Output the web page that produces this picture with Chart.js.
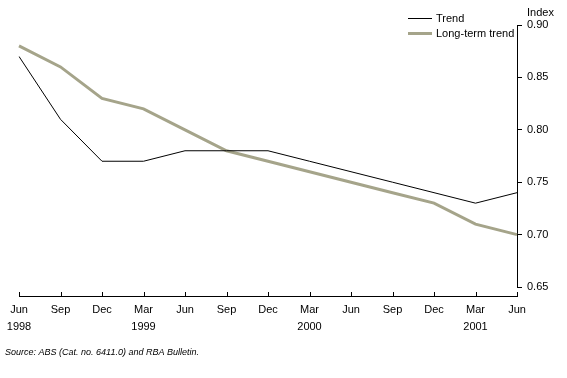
<!DOCTYPE html>
<html>
<head>
<meta charset="utf-8">
<script src="https://cdn.jsdelivr.net/npm/chart.js@4"></script>
<style>
  html, body { margin: 0; padding: 0; background: #fff; }
  #chartDiv { display: block; }
</style>
</head>
<body>
<canvas id="chartDiv" width="567" height="378"></canvas>
<script>
const months = ["Jun", "Sep", "Dec", "Mar", "Jun", "Sep", "Dec", "Mar", "Jun", "Sep", "Dec", "Mar", "Jun"];
const years = ["1998", "", "", "1999", "", "", "", "2000", "", "", "", "2001", ""];
const trend = [0.87, 0.81, 0.77, 0.77, 0.78, 0.78, 0.78, 0.77, 0.76, 0.75, 0.74, 0.73, 0.74];
const longTrend = [0.88, 0.86, 0.83, 0.82, 0.80, 0.78, 0.77, 0.76, 0.75, 0.74, 0.73, 0.71, 0.70];

const FONT = "'Liberation Sans', Arial, sans-serif";
const labels = months.map((m, i) => [m, years[i]]);

// axis line under the plot, legend, titles
const extras = {
  id: "extras",
  afterDraw(chart) {
    const ctx = chart.ctx;
    const x = chart.scales.x;
    const area = chart.chartArea;
    const axisY = area.bottom + 9;
    ctx.save();
    ctx.strokeStyle = "#000";
    ctx.lineWidth = 1;
    ctx.beginPath();
    ctx.moveTo(area.left, axisY + 0.5);
    ctx.lineTo(area.right + 1, axisY + 0.5);
    x.ticks.forEach((t, i) => {
      const px = Math.round(x.getPixelForTick(i)) + 0.5;
      ctx.moveTo(px, axisY);
      ctx.lineTo(px, axisY - 4);
    });
    ctx.stroke();

    ctx.fillStyle = "#000";
    ctx.font = "11px " + FONT;
    ctx.textBaseline = "middle";
    ctx.fillText("Index", 527, 13);

    chart.data.datasets.forEach((ds, i) => {
      const ly = 18 + i * 15;
      ctx.strokeStyle = ds.borderColor;
      ctx.lineWidth = ds.borderWidth;
      ctx.beginPath();
      ctx.moveTo(408, ly + 0.5);
      ctx.lineTo(432, ly + 0.5);
      ctx.stroke();
      ctx.fillStyle = "#000";
      ctx.fillText(ds.label, 436, ly + 1);
    });

    ctx.font = "italic 9px " + FONT;
    ctx.fillText("Source: ABS (Cat. no. 6411.0) and RBA Bulletin.", 5, 352);
    ctx.restore();
  },
};

const ctx = document.getElementById("chartDiv");
const chart = new Chart(ctx, {
  type: "line",
  data: {
    labels: labels,
    datasets: [
      {
        label: "Trend",
        data: trend,
        borderColor: "#000000",
        borderWidth: 1,
        pointRadius: 0,
        tension: 0,
      },
      {
        label: "Long-term trend",
        data: longTrend,
        borderColor: "#a5a48a",
        borderWidth: 3,
        pointRadius: 0,
        tension: 0,
      },
    ],
  },
  options: {
    responsive: false,
    animation: false,
    layout: { padding: { top: 25, left: 19, right: 0, bottom: 0 } },
    plugins: { legend: { display: false }, tooltip: { enabled: false } },
    scales: {
      x: {
        offset: false,
        grid: { display: false },
        border: { display: false },
        ticks: {
          autoSkip: false,
          maxRotation: 0,
          padding: 7,
          color: "#000",
          font: { family: FONT, size: 11, lineHeight: 1.5 },
        },
        afterFit: (scale) => {
          scale.height = 91;
          scale.paddingLeft = 0;
          scale.paddingRight = 0;
        },
      },
      y: {
        position: "right",
        min: 0.65,
        max: 0.9,
        grid: { drawOnChartArea: false, tickLength: 5, color: "#000" },
        border: { display: true, color: "#000" },
        ticks: {
          stepSize: 0.05,
          padding: 5,
          color: "#000",
          font: { family: FONT, size: 11 },
          callback: (v) => v.toFixed(2),
        },
        afterFit: (scale) => {
          scale.width = 50;
        },
      },
    },
  },
  plugins: [extras],
});
</script>
</body>
</html>
